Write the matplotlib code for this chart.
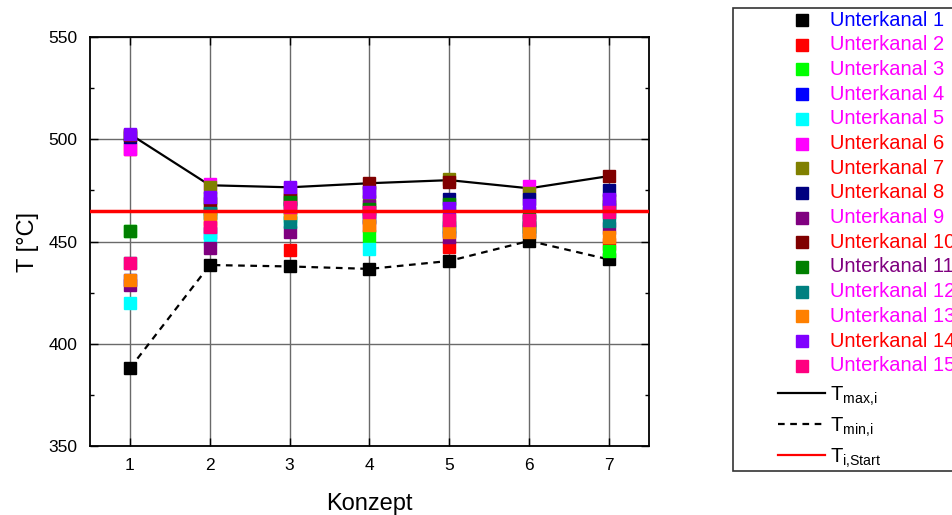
import numpy as np
import matplotlib
matplotlib.use("Agg")
import matplotlib.pyplot as plt
from matplotlib.lines import Line2D
from matplotlib.patches import Rectangle
from matplotlib.ticker import MultipleLocator

plt.rcParams['font.family'] = ['Liberation Sans', 'DejaVu Sans']
plt.rcParams['mathtext.default'] = 'regular'

# Konzept 1..7
konzept = [1, 2, 3, 4, 5, 6, 7]

# temperatures per Unterkanal (hidden points estimated)
uk1 = [388.0, 438.5, 437.8, 436.6, 440.5, 450.3, 441.2]
uk2 = [495.0, 457.0, 445.8, 457.5, 447.2, 455.0, 448.6]
uk3 = [455.0, 465.8, 462.6, 452.7, 460.5, 457.0, 445.3]
uk4 = [431.0, 454.0, 466.5, 461.7, 455.0, 460.5, 466.0]
uk5 = [420.0, 451.2, 459.5, 446.3, 456.0, 455.0, 464.0]
uk6 = [495.0, 478.0, 476.0, 464.5, 460.0, 477.0, 470.0]
uk7 = [502.0, 476.8, 473.2, 469.8, 480.5, 473.9, 470.5]
uk8 = [501.0, 471.5, 470.5, 474.0, 470.6, 470.6, 475.2]
uk9 = [428.5, 446.7, 454.5, 467.4, 452.3, 456.0, 456.5]
uk10 = [502.0, 468.7, 470.8, 478.5, 479.0, 460.0, 482.0]
uk11 = [455.0, 463.5, 469.2, 466.0, 468.3, 463.8, 467.4]
uk12 = [439.5, 463.8, 459.4, 462.0, 457.2, 457.2, 460.0]
uk13 = [431.0, 461.0, 464.0, 458.0, 454.8, 454.8, 452.3]
uk14 = [502.5, 472.0, 476.5, 474.4, 466.5, 467.8, 470.6]
uk15 = [439.5, 457.2, 467.0, 464.6, 460.5, 460.5, 464.6]

kanaele = [uk1, uk2, uk3, uk4, uk5, uk6, uk7, uk8, uk9, uk10,
           uk11, uk12, uk13, uk14, uk15]
namen = ["Unterkanal %d" % (i + 1) for i in range(15)]

t_max = [502.5, 477.5, 476.5, 478.5, 480.0, 476.0, 482.0]
t_min = [388.0, 438.5, 437.8, 436.6, 440.5, 450.3, 441.2]
t_start = 465.0

farben = ['#000000', '#FF0000', '#00FF00', '#0000FF', '#00FFFF',
          '#FF00FF', '#808000', '#000080', '#800080', '#800000',
          '#008000', '#008080', '#FF8000', '#8000FF', '#FF0080']
textfarben = ['#0000FF', '#FF00FF', '#FF00FF', '#FF00FF', '#FF00FF',
              '#FF0000', '#FF0000', '#FF0000', '#FF00FF', '#FF0000',
              '#800080', '#FF00FF', '#FF00FF', '#FF0000', '#FF00FF']

W, H = 953, 515
fig = plt.figure(figsize=(W / 100, H / 100), dpi=100)
ax = fig.add_axes([90 / W, 1 - 446 / H, 559 / W, 409 / H])

ax.grid(True, color='#6a6a6a', linewidth=1)
ax.set_axisbelow(True)

dash = (0, (3, 2.5))
ax.plot(konzept, t_max, color='black', lw=1.6, zorder=2)
ax.plot(konzept, t_min, color='black', lw=1.6, ls=dash, zorder=2)

for werte, farbe in zip(kanaele, farben):
	ax.plot(konzept, werte, ls='none', marker='s', ms=8, color=farbe,
	        mec=farbe, zorder=3)

ax.axhline(t_start, color='#FF0000', lw=2.5, zorder=4)

ax.set_xlim(0.5, 7.5)
ax.set_ylim(350, 550)
ax.set_xticks(konzept)
ax.yaxis.set_major_locator(MultipleLocator(50))
ax.yaxis.set_minor_locator(MultipleLocator(25))
ax.tick_params(which='both', direction='in', top=True, right=True, labelsize=12.5, width=1)
ax.tick_params(which='major', length=6, pad=9)
ax.tick_params(which='minor', length=3)
for s in ax.spines.values():
	s.set_linewidth(1.3)

ax.set_xlabel("Konzept", fontsize=17, labelpad=14)
ax.set_ylabel("T [°C]", fontsize=17, labelpad=7)

# legend box drawn by hand, it runs over the right edge of the figure like in the original
def fx(px):
	return px / W

def fy(py):
	return 1 - py / H

fig.add_artist(Rectangle((fx(733), fy(471)), fx(990) - fx(733), fy(8) - fy(471),
                         transform=fig.transFigure, facecolor='white',
                         edgecolor='#333333', lw=1.2, clip_on=False))
for i, (farbe, name, tf) in enumerate(zip(farben, namen, textfarben)):
	y = 20 + 24.7 * i
	fig.add_artist(Line2D([fx(802)], [fy(y)], ls='none', marker='s', ms=8,
	                      color=farbe, transform=fig.transFigure))
	fig.text(fx(830), fy(y), name, color=tf, fontsize=14.5, va='center', ha='left')

linien = [('T$_{max{,}i}$', 'black', '-'), ('T$_{min{,}i}$', 'black', dash),
          ('T$_{i{,}Start}$', '#FF0000', '-')]
for j, (lab, farbe, stil) in enumerate(linien):
	y = 393 + 31 * j
	fig.add_artist(Line2D([fx(778), fx(825)], [fy(y), fy(y)], color=farbe, lw=1.6,
	                      ls=stil, transform=fig.transFigure))
	fig.text(fx(830), fy(y + 3), lab, color='black', fontsize=14.5, va='center', ha='left')

plt.savefig("out.png", dpi=100)
